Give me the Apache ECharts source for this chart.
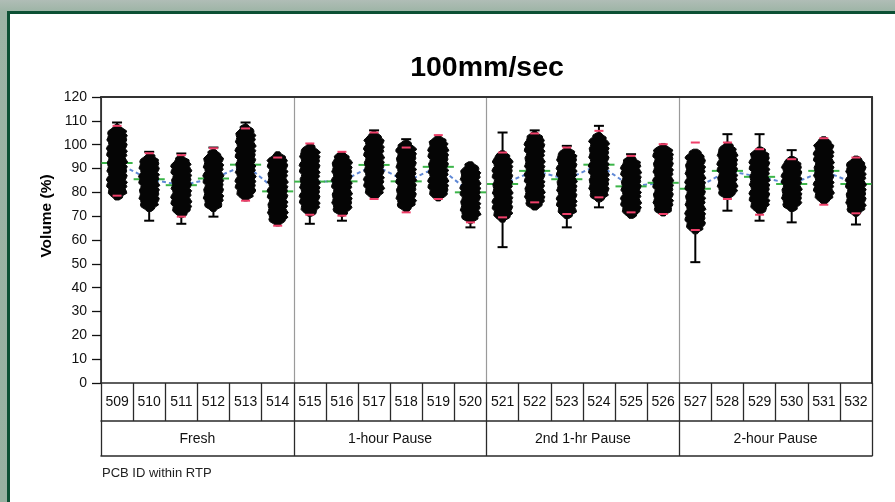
<!DOCTYPE html>
<html><head><meta charset="utf-8">
<script src="https://cdn.jsdelivr.net/npm/echarts@6/dist/echarts.min.js"></script>
<style>
html,body{margin:0;padding:0;width:895px;height:502px;overflow:hidden;background:linear-gradient(#b0bdb6 0px,#9cb4a5 12px,#97b1a1 100%);}
#panel{position:absolute;left:7px;top:11px;width:920px;height:520px;background:#fff;border-left:3px solid #0c5034;border-top:3px solid #0c5034;}
#chart{position:absolute;left:0;top:0;width:895px;height:502px;}
</style></head><body><div id="panel"></div><div id="chart"></div>
<script>
const categories = ['509','510','511','512','513','514','515','516','517','518','519','520','521','522','523','524','525','526','527','528','529','530','531','532'];
const groups = ['Fresh','1-hour Pause','2nd 1-hr Pause','2-hour Pause'];
const groupSizes = [6, 6, 6, 6];
const maxVals = [109.3, 97.0, 96.3, 98.8, 109.3, 97.4, 100.9, 97.4, 106.0, 102.3, 104.4, 93.2, 105.1, 106.0, 99.5, 107.9, 96.0, 100.9, 98.1, 104.4, 104.4, 97.7, 103.7, 95.6];
const cloudTops = [108.5, 96.5, 95.5, 98.0, 108.5, 97.0, 100.5, 97.0, 105.5, 101.8, 104.0, 92.8, 97.4, 105.5, 99.0, 105.0, 95.5, 100.5, 98.1, 101.0, 99.0, 95.0, 103.3, 95.2];
const cloudBottoms = [76.8, 72.0, 69.5, 72.0, 76.4, 65.9, 70.0, 70.0, 77.0, 71.9, 76.4, 67.0, 67.5, 72.6, 69.0, 76.0, 69.1, 70.1, 62.6, 77.0, 71.0, 72.0, 75.1, 70.0];
const minVals = [76.5, 68.1, 66.8, 69.8, 76.1, 65.6, 66.8, 68.1, 76.8, 71.6, 76.1, 65.3, 57.0, 72.3, 65.3, 73.7, 68.8, 69.8, 50.7, 72.3, 68.1, 67.4, 74.8, 66.5];
const redHigh = [107.9, 96.4, 95.6, 98.5, 106.8, 94.6, 100.5, 97.0, 105.1, 98.8, 104.0, null, 96.7, 104.7, 98.8, 105.8, 95.3, 100.2, 100.9, 100.9, 98.1, 93.9, 102.7, 94.6];
const redLow = [78.6, null, 69.8, null, 76.5, 66.0, 70.6, 70.2, 77.2, 71.6, 77.2, 67.4, 69.5, 75.8, 70.9, 77.9, 71.6, 70.9, 64.2, 77.2, 70.6, null, 74.8, 71.2];
const means = [92.3, 85.5, 83.0, 85.8, 91.6, 80.4, 84.5, 84.6, 91.5, 84.6, 90.7, 80.0, 83.5, 89.0, 85.5, 91.6, 82.5, 84.0, 81.5, 89.0, 86.5, 83.5, 89.0, 83.5];

const FONT = 'Liberation Sans, Arial, Helvetica, sans-serif';
const chart = echarts.init(document.getElementById('chart'), null, {renderer: 'canvas'});

const cloudData = categories.map((c, i) => [i, minVals[i], cloudBottoms[i], cloudTops[i], maxVals[i]]);
const meanData = categories.map((c, i) => [i, means[i]]);

const jag = [0, 1.8, -0.8, 2.4, 0.4, -1.4, 1.2, -0.4, 2.0, -1.2, 0.6, 1.6, -0.6, 1.0];
function renderCloud(params, api) {
  const i = params.dataIndex;
  const xi = api.value(0);
  const x = api.coord([xi, 0])[0];
  const lo = api.value(1), cb = api.value(2), ct = api.value(3), hi = api.value(4);
  const yLo = api.coord([xi, lo])[1], yB = api.coord([xi, cb])[1];
  const yT = api.coord([xi, ct])[1], yHi = api.coord([xi, hi])[1];
  const W = 9.0;
  const n = Math.max(8, Math.round((yB - yT) / 2.2));
  const right = [], left = [];
  for (let k = 0; k <= n; k++) {
    const t = k / n;
    const y = yB + (yT - yB) * t;
    const d = Math.min(yB - y, y - yT);
    let hw = W * Math.pow(Math.min(1, d / 8), 0.6);
    hw = Math.max(2, hw);
    const edge = (k > 0 && k < n);
    const jr = edge ? jag[(k + i * 5) % jag.length] : 0;
    const jl = edge ? jag[(k * 3 + i * 7 + 4) % jag.length] : 0;
    right.push([x + hw + jr * 0.7, y]);
    left.push([x - hw - jl * 0.7, y]);
  }
  const pts = right.concat(left.reverse());
  const children = [{type: 'polygon', shape: {points: pts}, style: {fill: '#050505', stroke: '#050505', lineWidth: 1}}];
  const blk = {stroke: '#000', lineWidth: 2};
  if (yLo - yB > 1) {
    children.push({type: 'line', shape: {x1: x, y1: yB, x2: x, y2: yLo}, style: blk});
    children.push({type: 'line', shape: {x1: x - 5, y1: yLo, x2: x + 5, y2: yLo}, style: blk});
  }
  if (yT - yHi > 1) {
    children.push({type: 'line', shape: {x1: x, y1: yT, x2: x, y2: yHi}, style: blk});
    children.push({type: 'line', shape: {x1: x - 5, y1: yHi, x2: x + 5, y2: yHi}, style: blk});
  }
  const red = {stroke: '#f0406a', lineWidth: 2};
  if (redHigh[i] != null) {
    const y = api.coord([xi, redHigh[i]])[1];
    children.push({type: 'line', shape: {x1: x - 4.5, y1: y, x2: x + 4.5, y2: y}, style: red});
  }
  if (redLow[i] != null) {
    const y = api.coord([xi, redLow[i]])[1];
    children.push({type: 'line', shape: {x1: x - 4.5, y1: y, x2: x + 4.5, y2: y}, style: red});
  }
  return {type: 'group', children: children};
}

function renderMean(params, api) {
  const xi = api.value(0);
  const p = api.coord([xi, api.value(1)]);
  const half = api.size([1, 0])[0] / 2;
  return {type: 'line', shape: {x1: p[0] - half + 0.5, y1: p[1], x2: p[0] + half - 0.5, y2: p[1]}, style: {stroke: '#3cb549', lineWidth: 2}};
}

const blueSeries = [];
let start = 0;
groupSizes.forEach((sz, g) => {
  const d = means.map((m, i) => (i >= start && i < start + sz) ? m : '-');
  blueSeries.push({type: 'line', xAxisIndex: 0, yAxisIndex: 0, data: d, symbol: 'none', z: 2,
    lineStyle: {color: '#5f88d6', width: 2, type: [4, 3]}, silent: true, connectNulls: false});
  start += sz;
});

const lineCol = '#2a2a2a';
const option = {
  animation: false,
  backgroundColor: 'transparent',
  grid: {left: 101, right: 23, top: 97, bottom: 119, containLabel: false},
  graphic: [
    {type: 'text', x: 487, y: 68, z: 10, style: {text: '100mm/sec', font: 'bold 28.5px ' + FONT, fill: '#000', align: 'center', verticalAlign: 'middle', textAlign: 'center', textVerticalAlign: 'middle'}},
    {type: 'text', x: 47, y: 216, rotation: Math.PI / 2, z: 10, style: {text: 'Volume (%)', font: 'bold 15.5px ' + FONT, fill: '#000', align: 'center', verticalAlign: 'middle', textAlign: 'center', textVerticalAlign: 'middle'}},
    {type: 'text', x: 102, y: 473, z: 10, style: {text: 'PCB ID within RTP', font: '13px ' + FONT, fill: '#222', align: 'left', verticalAlign: 'middle', textAlign: 'left', textVerticalAlign: 'middle'}}
  ],
  xAxis: [
    {type: 'category', data: categories, position: 'bottom', boundaryGap: true,
      axisLine: {show: true, onZero: false, lineStyle: {color: lineCol, width: 1.5}},
      axisTick: {show: true, length: 38, interval: 0, lineStyle: {color: lineCol, width: 1.3}},
      axisLabel: {interval: 0, margin: 12, fontSize: 14, color: '#111', fontFamily: FONT},
      splitLine: {show: false}},
    {type: 'category', data: groups, position: 'bottom', offset: 38, boundaryGap: true,
      axisLine: {show: true, onZero: false, lineStyle: {color: lineCol, width: 1.5}},
      axisTick: {show: true, length: 35, interval: 0, lineStyle: {color: lineCol, width: 1.3}},
      axisLabel: {interval: 0, margin: 11, fontSize: 14, color: '#111', fontFamily: FONT},
      splitLine: {show: true, interval: 0, lineStyle: {color: '#9a9a9a', width: 1.2}}},
    {type: 'category', data: groups, position: 'bottom', offset: 73, boundaryGap: true,
      axisLine: {show: true, onZero: false, lineStyle: {color: lineCol, width: 1.5}},
      axisTick: {show: false}, axisLabel: {show: false}, splitLine: {show: false}},
    {type: 'category', data: categories, position: 'top', boundaryGap: true,
      axisLine: {show: true, onZero: false, lineStyle: {color: '#333', width: 2}},
      axisTick: {show: false}, axisLabel: {show: false}, splitLine: {show: false}}
  ],
  yAxis: [
    {type: 'value', min: 0, max: 120, interval: 10, position: 'left',
      axisLine: {show: true, onZero: false, lineStyle: {color: '#111', width: 1.5}},
      axisTick: {show: true, length: 9, lineStyle: {color: '#111', width: 1.3}},
      axisLabel: {margin: 14, fontSize: 14, color: '#111', fontFamily: FONT},
      splitLine: {show: false}},
    {type: 'value', min: 0, max: 120, position: 'right',
      axisLine: {show: true, onZero: false, lineStyle: {color: '#333', width: 2}},
      axisTick: {show: false}, axisLabel: {show: false}, splitLine: {show: false}}
  ],
  series: [
    ...blueSeries,
    {type: 'custom', xAxisIndex: 0, yAxisIndex: 0, data: meanData, renderItem: renderMean, z: 3, silent: true,
      encode: {x: 0, y: 1}},
    {type: 'custom', xAxisIndex: 0, yAxisIndex: 0, data: cloudData, renderItem: renderCloud, z: 4, silent: true,
      encode: {x: 0, y: [1, 2, 3, 4]}}
  ]
};
chart.setOption(option);
</script>
</body></html>
